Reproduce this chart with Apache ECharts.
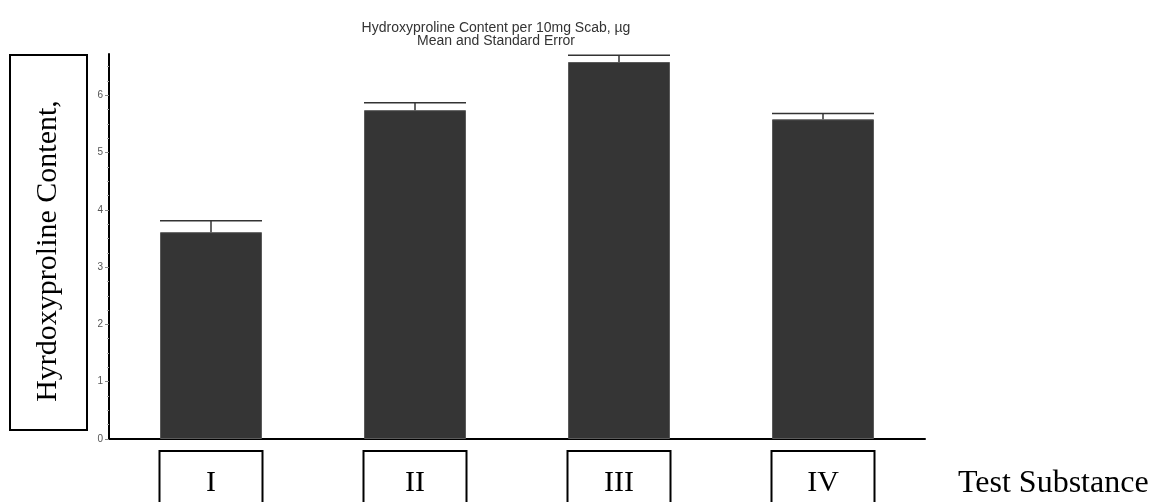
<!DOCTYPE html>
<html>
<head>
<meta charset="utf-8">
<script src="https://cdn.jsdelivr.net/npm/echarts@6/dist/echarts.min.js"></script>
<style>
html,body{margin:0;padding:0;background:#fff;}
#chart{width:1151px;height:502px;}
</style>
</head>
<body>
<div id="chart"></div>
<script>
const categories = ['I', 'II', 'III', 'IV'];
const means = [3.61, 5.74, 6.58, 5.58];
const upperErrors = [3.81, 5.87, 6.70, 5.68];
const yTickValues = [0, 1, 2, 3, 4, 5, 6];
const titleLines = ['Hydroxyproline Content per 10mg Scab, \u00b5g', 'Mean and Standard Error'];
const yAxisTitle = 'Hyrdoxyproline Content,';
const xAxisTitle = 'Test Substance';

const chart = echarts.init(document.getElementById('chart'), null, {renderer: 'canvas'});

const errorData = categories.map((c, i) => [i, means[i], upperErrors[i]]);

const option = {
  animation: false,
  backgroundColor: '#ffffff',
  title: {
    text: titleLines.join('\n'),
    left: 491,
    top: 17,
    textAlign: 'center',
    textStyle: {
      fontFamily: 'Liberation Sans, Arial, sans-serif',
      fontSize: 14,
      fontWeight: 'normal',
      color: '#333',
      lineHeight: 13
    }
  },
  grid: {left: 109, right: 226, top: 54, bottom: 63, containLabel: false, outerBoundsMode: 'none'},
  xAxis: {
    type: 'category',
    data: categories,
    axisLine: {show: true, lineStyle: {color: '#000', width: 2}},
    axisTick: {show: false},
    axisLabel: {
      margin: 13,
      fontFamily: 'Liberation Serif, Times New Roman, serif',
      fontSize: 30,
      color: '#000',
      lineHeight: 30,
      width: 101,
      align: 'center',
      borderColor: '#000',
      borderWidth: 2,
      padding: [16, 0, 24, 0],
      backgroundColor: '#fff'
    },
    splitLine: {show: false}
  },
  yAxis: {
    type: 'value',
    min: 0,
    max: 6.72,
    interval: 1,
    axisLine: {show: true, lineStyle: {color: '#000', width: 2}},
    axisTick: {show: true, length: 4, customValues: yTickValues, lineStyle: {color: '#888', width: 1}},
    minorTick: {show: true, splitNumber: 4, length: 2, lineStyle: {color: '#aaa', width: 1}},
    axisLabel: {
      margin: 6,
      customValues: yTickValues,
      fontFamily: 'Liberation Sans, Arial, sans-serif',
      fontSize: 10,
      color: '#555'
    },
    splitLine: {show: false}
  },
  graphic: [
    {
      type: 'rect',
      shape: {x: 10, y: 55, width: 77, height: 375},
      style: {fill: 'none', stroke: '#000', lineWidth: 2},
      silent: true
    },
    {
      type: 'text',
      x: 48,
      y: 251,
      rotation: Math.PI / 2,
      style: {
        text: yAxisTitle,
        font: '30px "Liberation Serif", "Times New Roman", serif',
        fill: '#000',
        align: 'center',
        verticalAlign: 'middle'
      },
      silent: true
    },
    {
      type: 'text',
      x: 958,
      y: 484,
      style: {
        text: xAxisTitle,
        font: '32px "Liberation Serif", "Times New Roman", serif',
        fill: '#000',
        align: 'left',
        verticalAlign: 'middle'
      },
      silent: true
    }
  ],
  series: [
    {
      type: 'bar',
      data: means,
      barWidth: '50%',
      itemStyle: {color: '#353535', borderColor: '#5a5a5a', borderWidth: 1},
      z: 2
    },
    {
      type: 'custom',
      data: errorData,
      z: 3,
      renderItem: function (params, api) {
        const idx = api.value(0);
        const top = api.coord([idx, api.value(1)]);
        const cap = api.coord([idx, api.value(2)]);
        const w = api.size([1, 0])[0] * 0.5;
        const style = {stroke: '#333', lineWidth: 1.5};
        return {
          type: 'group',
          children: [
            {type: 'line', shape: {x1: top[0], y1: top[1], x2: cap[0], y2: cap[1]}, style: style},
            {type: 'line', shape: {x1: cap[0] - w / 2, y1: cap[1], x2: cap[0] + w / 2, y2: cap[1]}, style: style}
          ]
        };
      }
    }
  ]
};
chart.setOption(option);
</script>
</body>
</html>
